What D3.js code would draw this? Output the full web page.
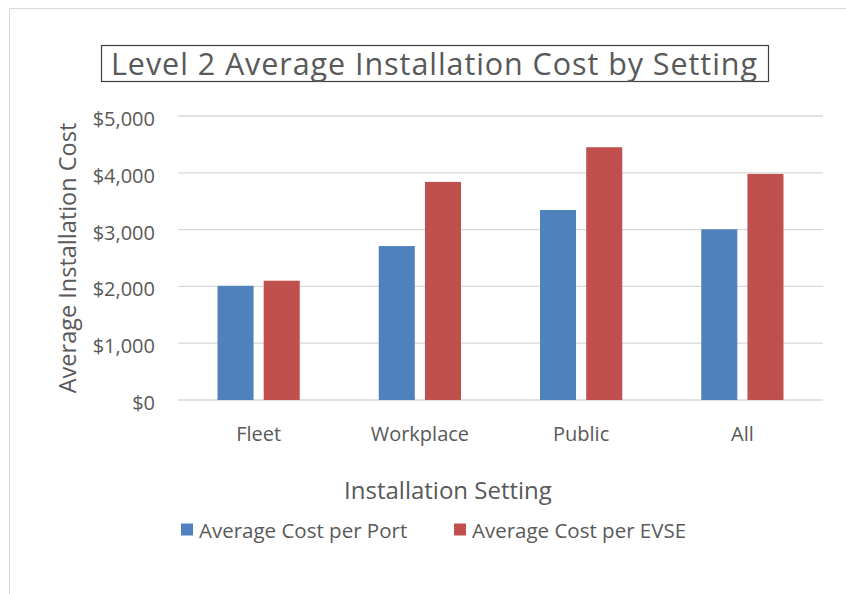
<!DOCTYPE html>
<html>
<head>
<meta charset="utf-8">
<script src="https://cdn.jsdelivr.net/npm/d3@7"></script>
<style>
  body { margin: 0; background: #fff; }
  text { font-family: "Open Sans", Lato, sans-serif; fill: #595959; }
</style>
</head>
<body>
<svg id="chart" width="846" height="594"></svg>
<script>
// chart data
const categories = ["Fleet", "Workplace", "Public", "All"];
const seriesNames = ["Average Cost per Port", "Average Cost per EVSE"];
const perPort = [2010, 2710, 3345, 3005];
const perEvse = [2100, 3840, 4450, 3980];
const yTicks = [0, 1000, 2000, 3000, 4000, 5000];
const colors = ["#4F81BD", "#C0504D"];

const svg = d3.select("#chart");

// outer chart frame
svg.append("rect")
    .attr("x", 9.5).attr("y", 8.5)
    .attr("width", 846).attr("height", 600)
    .attr("fill", "none").attr("stroke", "#d9d9d9");

const plotLeft = 178, plotRight = 823, plotTop = 116, plotBottom = 400;

const x0 = d3.scaleBand().domain(categories).range([plotLeft, plotRight])
    .paddingInner(0.49).paddingOuter(0.245);
const x1 = d3.scaleBand().domain([0, 1]).range([0, x0.bandwidth()])
    .paddingInner(0.22);
const y = d3.scaleLinear().domain([0, 5000]).range([plotBottom, plotTop]);

// gridlines
svg.append("g").selectAll("line").data(yTicks).join("line")
    .attr("x1", plotLeft).attr("x2", plotRight)
    .attr("y1", d => y(d)).attr("y2", d => y(d))
    .attr("stroke", "#d9d9d9").attr("stroke-width", 1.3);

// y axis labels
const fmt = d3.format("$,");
const yAxis = svg.append("g").attr("transform", `translate(${plotLeft},3)`)
    .call(d3.axisLeft(y).tickValues(yTicks).tickFormat(fmt).tickSize(0).tickPadding(23));
yAxis.select(".domain").remove();
yAxis.selectAll("text").attr("font-size", 20).attr("fill", "#595959")
    .style("font-family", "'Open Sans', sans-serif");

// bars
const rows = categories.map((c, i) => ({ cat: c, vals: [perPort[i], perEvse[i]] }));
const groups = svg.append("g").selectAll("g").data(rows).join("g")
    .attr("transform", d => `translate(${x0(d.cat)},0)`);
groups.selectAll("rect").data(d => d.vals.map((v, k) => ({ k, v }))).join("rect")
    .attr("x", d => x1(d.k))
    .attr("y", d => y(d.v))
    .attr("width", x1.bandwidth())
    .attr("height", d => y(0) - y(d.v))
    .attr("fill", d => colors[d.k]);

// x axis labels
const xAxis = svg.append("g").attr("transform", `translate(0,${plotBottom})`)
    .call(d3.axisBottom(x0).tickSize(0).tickPadding(26.5));
xAxis.select(".domain").remove();
xAxis.selectAll("text").attr("font-size", 20).attr("fill", "#595959")
    .style("font-family", "'Open Sans', sans-serif");

// axis titles
svg.append("text")
    .attr("x", 448).attr("y", 499)
    .attr("text-anchor", "middle").attr("font-size", 24)
    .text("Installation Setting");

svg.append("text")
    .attr("transform", "translate(76,258) rotate(-90)")
    .attr("text-anchor", "middle").attr("font-size", 23.5)
    .text("Average Installation Cost");

// title with box
svg.append("rect")
    .attr("x", 101.5).attr("y", 45.5).attr("width", 667).attr("height", 36)
    .attr("fill", "none").attr("stroke", "#404040").attr("stroke-width", 1.2);
svg.append("text")
    .attr("x", 434).attr("y", 74.5)
    .attr("text-anchor", "middle").attr("font-size", 30.5)
    .attr("textLength", 646).attr("lengthAdjust", "spacing")
    .attr("fill", "#404040")
    .text("Level 2 Average Installation Cost by Setting");

// legend
const legendX = [181, 454];
const legend = svg.append("g").selectAll("g").data(seriesNames).join("g")
    .attr("transform", (d, i) => `translate(${legendX[i]},523.5)`);
legend.append("rect").attr("width", 12).attr("height", 12)
    .attr("fill", (d, i) => colors[i]);
legend.append("text").attr("x", 18).attr("y", 14.5)
    .attr("font-size", 20.5).text(d => d);
</script>
</body>
</html>
